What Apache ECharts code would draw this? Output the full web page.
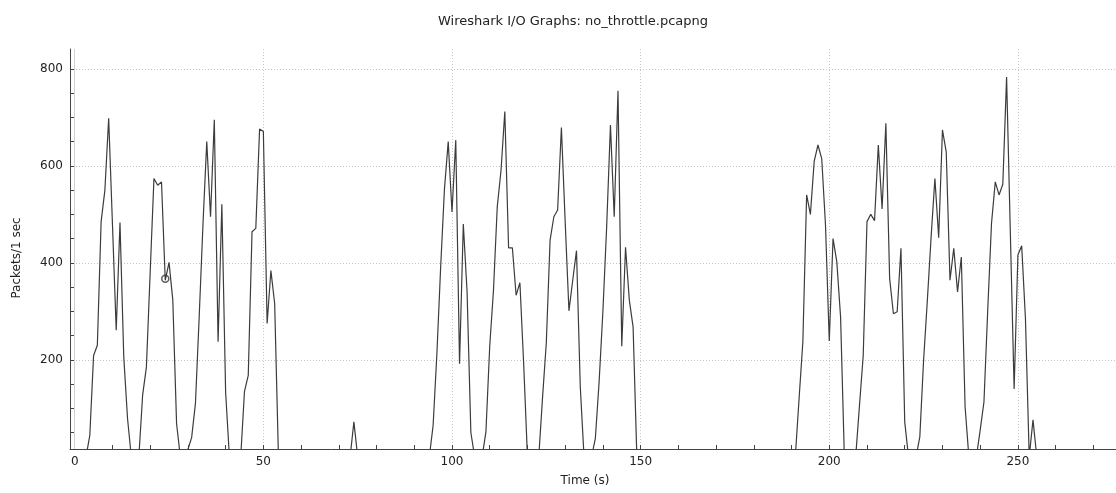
<!DOCTYPE html>
<html>
<head>
<meta charset="utf-8">
<script src="https://cdn.jsdelivr.net/npm/echarts/dist/echarts.min.js"></script>
<style>
html,body{margin:0;padding:0;background:#fff;}
#chart{width:1116px;height:493px;}
</style>
</head>
<body>
<div id="chart"></div>
<script>
// Packets per 1-second interval, starting at t = 0 s
const packets = [
  0, 0, 0, 0, 44, 209, 230, 485, 550, 698,          // 0-9
  480, 261, 483, 206, 79, 0, 0, 0, 127, 185,        // 10-19
  380, 574, 560, 567, 364, 401, 323, 68, 0, 0,      // 20-29
  15, 40, 110, 290, 480, 650, 495, 695, 237, 521,   // 30-39
  133, 0, 0, 0, 0, 135, 168, 464, 471, 676,         // 40-49
  671, 275, 384, 316, 0, 0, 0, 0, 0, 0,             // 50-59
  0, 0, 0, 0, 0, 0, 0, 0, 0, 0,                     // 60-69
  0, 0, 0, 0, 72, 0, 0, 0, 0, 0,                    // 70-79
  0, 0, 0, 0, 0, 0, 0, 0, 0, 0,                     // 80-89
  0, 0, 0, 0, 0, 65, 213, 392, 552, 650,            // 90-99
  505, 653, 192, 480, 340, 50, 0, 0, 0, 52,         // 100-109
  228, 344, 516, 591, 712, 431, 431, 333, 359, 192, // 110-119
  0, 0, 0, 0, 122, 235, 447, 495, 509, 679,         // 120-129
  485, 301, 364, 425, 145, 0, 0, 0, 38, 155,        // 130-139
  300, 475, 684, 495, 755, 228, 432, 323, 268, 0,   // 140-149
  0, 0, 0, 0, 0, 0, 0, 0, 0, 0,                     // 150-159
  0, 0, 0, 0, 0, 0, 0, 0, 0, 0,                     // 160-169
  0, 0, 0, 0, 0, 0, 0, 0, 0, 0,                     // 170-179
  0, 0, 0, 0, 0, 0, 0, 0, 0, 0,                     // 180-189
  0, 0, 120, 237, 540, 500, 609, 643, 615, 478,     // 190-199
  239, 450, 402, 288, 0, 0, 0, 0, 105, 209,         // 200-209
  485, 500, 487, 643, 511, 688, 368, 295, 299, 430, // 210-219
  72, 0, 0, 0, 41, 199, 323, 454, 574, 452,         // 220-229
  674, 629, 364, 430, 340, 412, 103, 0, 0, 0,       // 230-239
  55, 113, 302, 481, 567, 540, 562, 783, 460, 140,  // 240-249
  416, 435, 285, 0, 76, 0, 0                        // 250-256
];
const markerPoint = [[24, 367]];
const xLabelTicks = [0, 50, 100, 150, 200, 250];
const xMinorTicks = [0, 10, 20, 30, 40, 50, 60, 70, 80, 90, 100, 110, 120, 130, 140, 150, 160, 170, 180, 190, 200, 210, 220, 230, 240, 250, 260, 270];
const yLabelTicks = [200, 400, 600, 800];
const yMinorTicks = [50, 100, 150, 200, 250, 300, 350, 400, 450, 500, 550, 600, 650, 700, 750, 800];
const zeroTime = 0;

const FONT = 'DejaVu Sans';
const seriesData = packets.map((v, i) => [i, v]);

const chart = echarts.init(document.getElementById('chart'), null, {renderer: 'canvas'});
const gridStyle = {type: [1, 2], color: '#c4c4c4', width: 1};
chart.setOption({
  animation: false,
  backgroundColor: '#ffffff',
  title: {
    text: 'Wireshark I/O Graphs: no_throttle.pcapng',
    left: 568, top: 10, textAlign: 'center',
    textStyle: {fontFamily: FONT, fontSize: 13, fontWeight: 'normal', color: '#222'}
  },
  grid: {left: 70, top: 49, right: 0, bottom: 44},
  xAxis: [
    {
      type: 'value', min: -1.25, max: 276, position: 'bottom',
      name: 'Time (s)', nameLocation: 'middle', nameGap: 26,
      nameTextStyle: {fontFamily: FONT, fontSize: 12, color: '#222', padding: [0, 16, 0, 0]},
      axisLine: {show: true, onZero: false, lineStyle: {color: '#444', width: 1}},
      axisTick: {show: true, inside: true, length: 4, customValues: xMinorTicks, lineStyle: {color: '#444'}},
      axisLabel: {customValues: xLabelTicks, fontFamily: FONT, fontSize: 12, color: '#222', margin: 7},
      splitLine: {show: false}
    },
    {
      type: 'value', min: -1.25, max: 276, position: 'bottom',
      axisLine: {show: false}, axisLabel: {show: false},
      axisTick: {show: false, customValues: xLabelTicks},
      splitLine: {show: true, lineStyle: gridStyle}
    }
  ],
  yAxis: [
    {
      type: 'value', min: 16, max: 841, position: 'left',
      name: 'Packets/1 sec', nameLocation: 'middle', nameGap: 47, nameRotate: 90,
      nameTextStyle: {fontFamily: FONT, fontSize: 12, color: '#222', padding: [0, 18, 0, 0]},
      axisLine: {show: true, onZero: false, lineStyle: {color: '#444', width: 1}},
      axisTick: {show: true, inside: true, length: 5, customValues: yMinorTicks, lineStyle: {color: '#444'}},
      axisLabel: {customValues: yLabelTicks, fontFamily: FONT, fontSize: 12, color: '#222', margin: 7},
      splitLine: {show: false}
    },
    {
      type: 'value', min: 16, max: 841, position: 'left',
      axisLine: {show: false}, axisLabel: {show: false},
      axisTick: {show: false, customValues: yLabelTicks},
      splitLine: {show: true, lineStyle: gridStyle}
    }
  ],
  series: [
    {
      type: 'line', xAxisIndex: 0, yAxisIndex: 0,
      data: seriesData, showSymbol: false, symbol: 'none', clip: true,
      lineStyle: {color: '#3c3c3c', width: 1.2},
      markLine: {
        silent: true, symbol: 'none', label: {show: false},
        lineStyle: {color: '#d2d2d2', type: 'solid', width: 1},
        data: [{xAxis: zeroTime}]
      }
    },
    {
      type: 'scatter', xAxisIndex: 0, yAxisIndex: 0,
      data: markerPoint, symbol: 'circle', symbolSize: 7,
      itemStyle: {color: 'rgba(0,0,0,0)', borderColor: '#333', borderWidth: 1.5}
    }
  ]
});
</script>
</body>
</html>
